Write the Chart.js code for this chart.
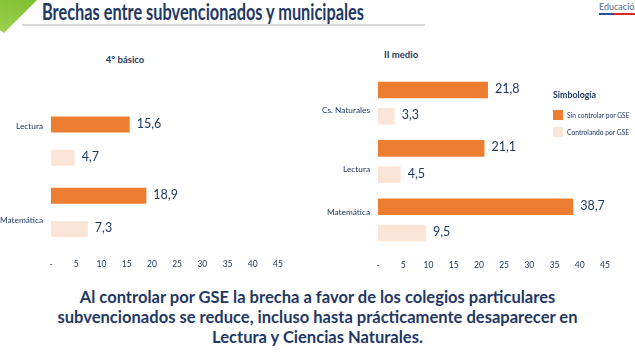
<!DOCTYPE html>
<html>
<head>
<meta charset="utf-8">
<script src="https://cdn.jsdelivr.net/npm/chart.js@4.4.1/dist/chart.umd.min.js"></script>
<style>
  html, body { margin:0; padding:0; background:#fff; }
  body { width:635px; height:356px; position:relative; overflow:hidden; font-family:Lato, "Open Sans", sans-serif; color:#1F3864; }
  .abs { position:absolute; white-space:nowrap; }
  #tri { left:0; top:0; width:38px; height:34px; background:linear-gradient(200deg,#7fbf2e,#9fd050); clip-path:polygon(0 0, 37px 0, 4px 33px, 0 30px); }
  #title { left:42px; top:-1px; font-weight:700; color:#1F3864; line-height:26px; font-size:22px; transform-origin:0 0; }
  #rule { left:22px; top:24px; width:403px; height:2px; background:#d9d9d9; }
  #logo { left:599px; top:1px; font-size:9px; color:#5b6b85; line-height:11px; }
  #logoBlue { left:599px; top:13px; width:15px; height:2px; background:#2a4f9c; }
  #logoRed { left:614px; top:13px; width:21px; height:2px; background:#d52b2f; }
  .sub { font-weight:700; font-size:9.5px; color:#1F3864; transform:translateX(-50%); }
  canvas { position:absolute; }
  #legend { left:553px; top:89px; font-size:6.7px; color:#1F3864; z-index:5; }
  #legend .lt { font-weight:700; font-size:8.8px; margin-bottom:6px; }
  #legend .it { display:flex; align-items:center; height:17px; }
  #legend .sw { width:10px; height:10px; margin-right:4px; }
  #bottom { left:0; width:635px; top:287px; text-align:center; font-weight:700; color:#1F3864; font-size:17px; }
  #bottom div { line-height:20px; white-space:nowrap; transform-origin:50% 50%; }
</style>
</head>
<body>
<div id="tri" class="abs"></div>
<div id="title" class="abs">Brechas entre subvencionados y municipales</div>
<div id="rule" class="abs"></div>
<div id="logo" class="abs">Educación</div>
<div id="logoBlue" class="abs"></div>
<div id="logoRed" class="abs"></div>
<div class="abs sub" style="left:125px; top:54px;">4° básico</div>
<div class="abs sub" style="left:401px; top:49px;">II medio</div>

<canvas id="c1" width="300" height="173" style="left:0; top:100px;"></canvas>
<canvas id="c2" width="325" height="204" style="left:300px; top:70px;"></canvas>

<div id="legend" class="abs"></div>

<div id="bottom" class="abs">
  <div id="b1">Al controlar por GSE la brecha a favor de los colegios particulares</div>
  <div id="b2">subvencionados se reduce, incluso hasta prácticamente desaparecer en</div>
  <div id="b3">Lectura y Ciencias Naturales.</div>
</div>

<script>
// ---- Data ----
const seriesNames = ["Sin controlar por GSE", "Controlando por GSE"];
const basicoCategories = ["Lectura", "Matemática"];
const basicoSinControlar = [15.6, 18.9];
const basicoControlando = [4.7, 7.3];
const medioCategories = ["Cs. Naturales", "Lectura", "Matemática"];
const medioSinControlar = [21.8, 21.1, 38.7];
const medioControlando = [3.3, 4.5, 9.5];
const xTickValues = [0, 5, 10, 15, 20, 25, 30, 35, 40, 45];
const legendTitle = "Simbología";

// ---- Styles ----
const ORANGE = "#ED7D31";
const LIGHT = "#FBE5D6";
const NAVY = "#1F3864";
const FONT = "Lato, 'Open Sans', sans-serif";

// condense text horizontally to match the reference widths
function spanWidth(el) {
  const s = document.createElement("span");
  s.textContent = el.textContent;
  s.style.font = getComputedStyle(el).font;
  s.style.whiteSpace = "nowrap";
  s.style.position = "absolute";
  s.style.visibility = "hidden";
  document.body.appendChild(s);
  const w = s.getBoundingClientRect().width;
  s.remove();
  return w;
}
(function(){
  const t = document.getElementById("title");
  t.style.transform = "scaleX(" + (322 / spanWidth(t)) + ")";
  const b2 = document.getElementById("b2");
  const k = 520 / spanWidth(b2);
  ["b1","b2","b3"].forEach(id => { document.getElementById(id).style.transform = "scaleX(" + k + ")"; });
})();

// legend
const legendEl = document.getElementById("legend");
legendEl.innerHTML = '<div class="lt">' + legendTitle + '</div>' +
  seriesNames.map((n, i) => '<div class="it"><div class="sw" style="background:' + [ORANGE, LIGHT][i] + '"></div>' + n + '</div>').join("");

const fmt = v => v.toFixed(1).replace(".", ",");

const valueLabels = {
  id: "valueLabels",
  afterDatasetsDraw(chart) {
    const ctx = chart.ctx;
    ctx.save();
    ctx.font = "12.5px " + FONT;
    ctx.fillStyle = NAVY;
    ctx.textBaseline = "middle";
    ctx.textAlign = "left";
    chart.data.datasets.forEach((ds, i) => {
      chart.getDatasetMeta(i).data.forEach((bar, j) => {
        ctx.fillText(fmt(ds.data[j]), bar.x + 7, bar.y - 1);
      });
    });
    ctx.restore();
  }
};

function makeChart(id, cats, a, b, yWidth, pad, catPct, barPct, labelShift) {
  return new Chart(document.getElementById(id), {
    type: "bar",
    data: {
      labels: cats,
      datasets: [
        { label: seriesNames[0], data: a, backgroundColor: ORANGE, categoryPercentage: catPct, barPercentage: barPct },
        { label: seriesNames[1], data: b, backgroundColor: LIGHT, categoryPercentage: catPct, barPercentage: barPct }
      ]
    },
    options: {
      indexAxis: "y",
      responsive: false,
      animation: false,
      layout: { padding: pad },
      plugins: { legend: { display: false }, tooltip: { enabled: false } },
      scales: {
        x: {
          min: 0, max: 45,
          grid: { display: false, drawTicks: false },
          border: { display: false },
          afterBuildTicks: s => { s.ticks = xTickValues.map(v => ({ value: v })); },
          afterFit: s => { s.height = 25; },
          ticks: {
            padding: 11,
            color: NAVY,
            font: { family: FONT, size: 8.5 },
            maxRotation: 0,
            autoSkip: false,
            callback: v => v === 0 ? "-" : String(v)
          }
        },
        y: {
          grid: { display: false, drawTicks: false },
          border: { display: false },
          afterFit: s => { s.width = yWidth; s.paddingTop = 0; s.paddingBottom = 0; },
          ticks: {
            padding: 8,
            color: NAVY,
            font: { family: FONT, size: 8.3, lineHeight: 1.8 },
            autoSkip: false,
            callback: function(v, i) {
              const lab = this.getLabelForValue(v);
              const sh = labelShift[i];
              if (sh < 0) return [lab].concat(Array(-sh).fill(""));
              if (sh > 0) return Array(sh).fill("").concat([lab]);
              return lab;
            }
          }
        }
      }
    },
    plugins: [valueLabels]
  });
}

makeChart("c1", basicoCategories, basicoSinControlar, basicoControlando, 51,
  { top: 5.5, right: 22, bottom: 0, left: 0 }, 0.93, 0.48, [-2, 1]);
makeChart("c2", medioCategories, medioSinControlar, medioControlando, 78,
  { top: 4, right: 20, bottom: 0, left: 0 }, 0.9, 0.63, [1, 1, -1]);
</script>
</body>
</html>
